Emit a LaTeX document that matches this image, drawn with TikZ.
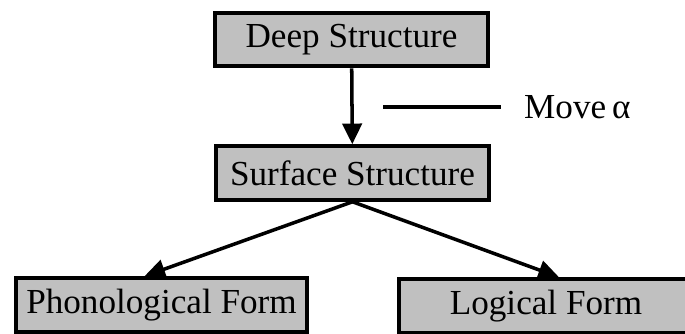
\documentclass[tikz,border=0pt]{standalone}
\usepackage{fontspec}
\setmainfont{Liberation Serif}
\usetikzlibrary{arrows.meta}
\definecolor{boxgray}{RGB}{192,192,192}

\begin{document}
\begin{tikzpicture}[x=0.03cm,y=0.03cm,
  level/.style={draw,line width=3.6pt,fill=boxgray,minimum height=1.6cm,
    inner sep=0pt,font=\fontsize{30}{35}\selectfont},
  derive/.style={line width=3pt,-{Triangle[length=0.62cm,width=0.58cm]}}]
\clip (0,0) rectangle (685,333);
\node[level,minimum width=8.2cm] (ds) at (351.5,293.5) {Deep Structure};
\node[level,minimum width=8.2cm] (ss) at (352.5,160) {Surface Structure};
\node[level,minimum width=8.75cm] (pf) at (161.5,28) {Phonological Form};
\node[level,minimum width=8.8cm] (lf) at (546,27) {Logical Form};
% transformation label
\node[anchor=west,inner sep=0pt,font=\fontsize{30}{35}\selectfont] (mv) at (524,226) {Move\,α};
\coordinate (mvstart) at (383,226);
\draw[line width=3pt] (mvstart) -- ([xshift=-0.69cm]mv.west);
\draw[derive] (ds) -- (ss);
\draw[derive] (ss.south) -- ([xshift=-0.51cm]pf.north);
\draw[derive] (ss.south) -- ([xshift=0.39cm]lf.north);
\end{tikzpicture}
\end{document}
